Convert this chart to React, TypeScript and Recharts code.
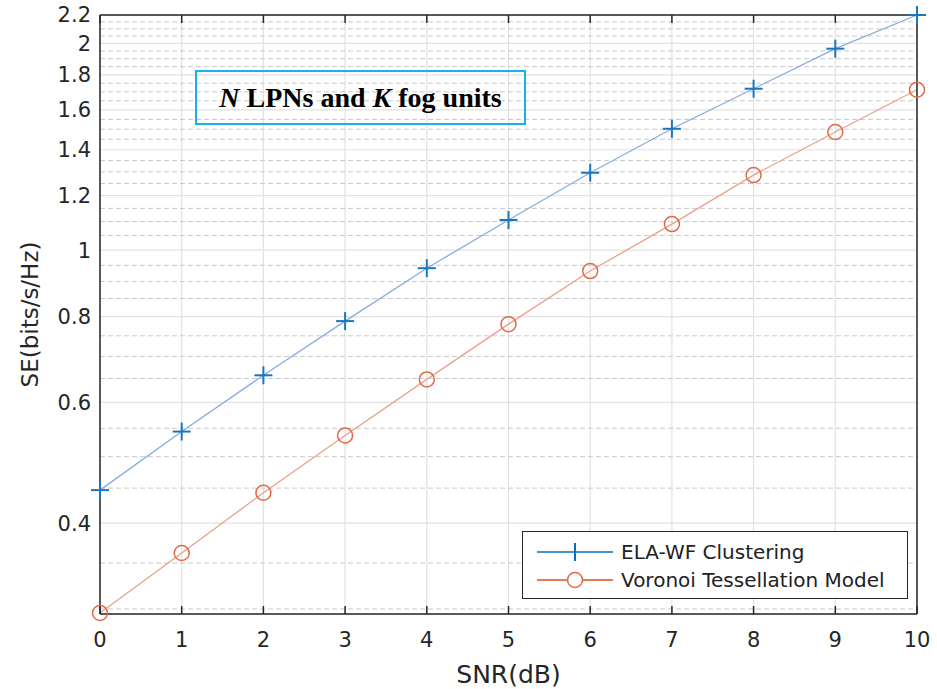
import React from "react";
import { LineChart, Line, XAxis, YAxis, CartesianGrid, ReferenceLine, Legend } from "recharts";

const snr = [0, 1, 2, 3, 4, 5, 6, 7, 8, 9, 10];
const elaWf = [0.447, 0.544, 0.657, 0.788, 0.941, 1.106, 1.296, 1.502, 1.718, 1.965, 2.2];
const voronoi = [0.296, 0.362, 0.443, 0.537, 0.648, 0.78, 0.932, 1.091, 1.286, 1.486, 1.712];

const xTicks = [0, 1, 2, 3, 4, 5, 6, 7, 8, 9, 10];
const yMajor = [0.4, 0.6, 0.8, 1, 1.2, 1.4, 1.6, 1.8, 2, 2.2];
const yMinor = [
  0.3, 0.35, 0.45, 0.5, 0.55, 0.65, 0.7, 0.75, 0.85, 0.9, 0.95, 1.05, 1.1, 1.15, 1.25, 1.3,
  1.35, 1.45, 1.5, 1.55, 1.65, 1.7, 1.75, 1.85, 1.9, 1.95, 2.05, 2.1, 2.15,
];
const yDomain: [number, number] = [0.295, 2.2];

const data = snr.map((s, i) => ({ snr: s, ela: elaWf[i], vor: voronoi[i] }));

const AXIS = "#262626";
const BLUE = "#0072BD";
const ORANGE = "#D95319";
const font = "DejaVu Sans, Liberation Sans, sans-serif";
const THIN = 0.01; // mirror axes draw nothing when their size is 0

const NoLabel = () => <g />;

const PlusDot = (p: any) => {
  const { cx, cy, index } = p;
  if (cx == null || cy == null) return <g key={index} />;
  return (
    <g key={index}>
      <line x1={cx - 9} x2={cx + 9} y1={cy} y2={cy} stroke="#1677c4" strokeWidth={2} />
      <line x1={cx} x2={cx} y1={cy - 9} y2={cy + 9} stroke="#1677c4" strokeWidth={2} />
    </g>
  );
};

const CircleDot = (p: any) => {
  const { cx, cy, index } = p;
  if (cx == null || cy == null) return <g key={index} />;
  return <circle key={index} cx={cx} cy={cy} r={7.5} fill="none" stroke="#e06a48" strokeWidth={1.5} />;
};

const LegendBox = (props: any) => {
  const items = props.payload || [];
  return (
    <div
      style={{
        border: `1.5px solid ${AXIS}`,
        background: "#fff",
        boxSizing: "border-box",
        width: 386,
        height: 68,
        paddingTop: 6,
        fontFamily: font,
        fontSize: 20,
        color: "#222",
      }}
    >
      {items.map((it: any, i: number) => (
        <div key={it.value} style={{ display: "flex", alignItems: "center", height: 28 }}>
          <svg width={92} height={28} style={{ flex: "none" }}>
            <line x1={14} x2={90} y1={14} y2={14} stroke={i === 0 ? BLUE : ORANGE} strokeWidth={1.5} />
            {i === 0 ? (
              <line x1={52} x2={52} y1={5} y2={23} stroke={BLUE} strokeWidth={2} />
            ) : (
              <circle cx={52} cy={14} r={7.5} fill="#fff" stroke="#e06a48" strokeWidth={1.5} />
            )}
          </svg>
          <span style={{ marginLeft: 6, whiteSpace: "nowrap" }}>{it.value}</span>
        </div>
      ))}
    </div>
  );
};

export default function App() {
  return (
    <div style={{ position: "absolute", left: 0, top: 0, width: 937, height: 689, background: "#fff" }}>
      <LineChart width={937} height={689} data={data} margin={{ top: 15, right: 20, bottom: 0, left: 0 }}>
        <CartesianGrid stroke="#e2e2e2" strokeWidth={1.2} />
        {yMinor.map((v) => (
          <ReferenceLine key={v} y={v} stroke="#c9c9c9" strokeDasharray="5 3" strokeWidth={1} />
        ))}
        <XAxis
          dataKey="snr"
          type="number"
          domain={[0, 10]}
          ticks={xTicks}
          interval={0}
          height={75}
          tickSize={0}
          tickMargin={18}
          axisLine={{ stroke: AXIS, strokeWidth: 1.5 }}
          tick={{ fontSize: 21, fill: AXIS, fontFamily: font }}
          label={{ value: "SNR(dB)", position: "insideBottom", offset: 6, fontSize: 25, fill: AXIS, fontFamily: font }}
        />
        <XAxis
          xAxisId="bin"
          type="number"
          domain={[0, 10]}
          ticks={xTicks}
          interval={0}
          mirror
          height={THIN}
          tick={NoLabel}
          tickSize={8}
          axisLine={false}
          tickLine={{ stroke: AXIS, strokeWidth: 1.5 }}
        />
        <XAxis
          xAxisId="top"
          orientation="top"
          type="number"
          domain={[0, 10]}
          ticks={xTicks}
          interval={0}
          mirror
          height={THIN}
          tick={NoLabel}
          tickSize={8}
          axisLine={{ stroke: AXIS, strokeWidth: 1.5 }}
          tickLine={{ stroke: AXIS, strokeWidth: 1.5 }}
        />
        <YAxis
          scale="log"
          type="number"
          domain={yDomain}
          ticks={yMajor}
          interval={0}
          width={100}
          tickSize={0}
          tickMargin={9}
          axisLine={{ stroke: AXIS, strokeWidth: 1.5 }}
          tick={{ fontSize: 21, fill: AXIS, fontFamily: font }}
          label={{
            content: (lp: any) => {
              const vb = lp.viewBox || { x: 0, y: 15, width: 100, height: 599 };
              const x = vb.x + 30;
              const y = vb.y + vb.height / 2;
              return (
                <text
                  x={x}
                  y={y}
                  transform={`rotate(-90 ${x} ${y})`}
                  textAnchor="middle"
                  dominantBaseline="central"
                  fontSize={23}
                  fill={AXIS}
                  fontFamily={font}
                >
                  SE(bits/s/Hz)
                </text>
              );
            },
          }}
        />
        <YAxis yAxisId="lmaj" scale="log" type="number" domain={yDomain} ticks={yMajor} interval={0} mirror width={THIN} tick={NoLabel} tickSize={9} axisLine={false} tickLine={{ stroke: AXIS, strokeWidth: 1.5 }} />
        <YAxis yAxisId="lmin" scale="log" type="number" domain={yDomain} ticks={yMinor} interval={0} mirror width={THIN} tick={NoLabel} tickSize={5} axisLine={false} tickLine={{ stroke: AXIS, strokeWidth: 1.2 }} />
        <YAxis yAxisId="rmaj" orientation="right" scale="log" type="number" domain={yDomain} ticks={yMajor} interval={0} mirror width={THIN} tick={NoLabel} tickSize={9} axisLine={{ stroke: AXIS, strokeWidth: 1.5 }} tickLine={{ stroke: AXIS, strokeWidth: 1.5 }} />
        <YAxis yAxisId="rmin" orientation="right" scale="log" type="number" domain={yDomain} ticks={yMinor} interval={0} mirror width={THIN} tick={NoLabel} tickSize={5} axisLine={false} tickLine={{ stroke: AXIS, strokeWidth: 1.2 }} />
        <Line
          dataKey="ela"
          name="ELA-WF Clustering"
          stroke="#86acdf"
          strokeWidth={1.3}
          dot={PlusDot}
          activeDot={false}
          isAnimationActive={false}
        />
        <Line
          dataKey="vor"
          name="Voronoi Tessellation Model"
          stroke="#eca08a"
          strokeWidth={1.3}
          dot={CircleDot}
          activeDot={false}
          isAnimationActive={false}
        />
        <Legend
          layout="horizontal"
          verticalAlign="middle"
          align="center"
          content={LegendBox}
          wrapperStyle={{ left: 522, top: 531, width: 386, height: 68 }}
        />
      </LineChart>
      <div
        style={{
          position: "absolute",
          left: 195,
          top: 70,
          width: 331,
          height: 55,
          boxSizing: "border-box",
          border: "2px solid #1ab0e8",
          display: "flex",
          alignItems: "center",
          justifyContent: "center",
          fontFamily: "Liberation Serif, Times New Roman, serif",
          fontWeight: "bold",
          fontSize: 28,
          color: "#000",
        }}
      >
        <span>
          <i>N</i> LPNs and <i>K</i> fog units
        </span>
      </div>
    </div>
  );
}
